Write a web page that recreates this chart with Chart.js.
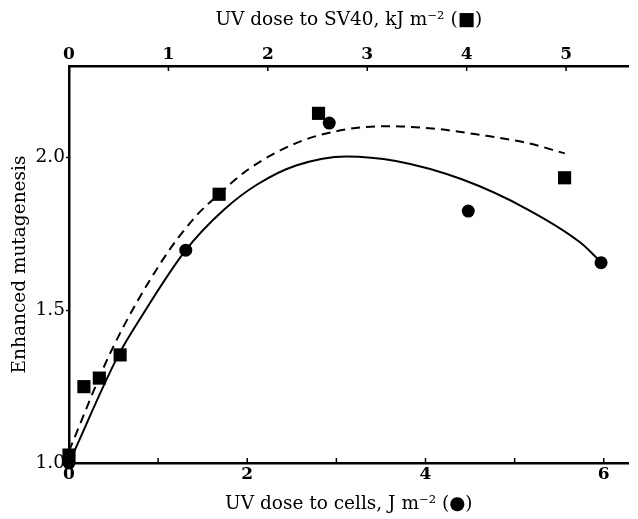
<!DOCTYPE html>
<html>
<head>
<meta charset="utf-8">
<script src="https://cdn.jsdelivr.net/npm/chart.js@4/dist/chart.umd.min.js"></script>
<style>
  html, body { margin: 0; padding: 0; background: #fff; }
  #wrap { width: 638px; height: 519px; }
</style>
</head>
<body>
<div id="wrap"><canvas id="c" width="638" height="519"></canvas></div>
<script>
// Circles: UV dose to cells (J m^-2), bottom axis
const cellDose = [0, 1.31, 2.92, 4.48, 5.97];
const cellMut  = [1.0, 1.697, 2.113, 1.825, 1.656];
// Squares: UV dose to SV40 (kJ m^-2), top axis
const sv40Dose = [0, 0.15, 0.305, 0.514, 1.51, 2.51, 4.985];
const sv40Mut  = [1.026, 1.25, 1.278, 1.354, 1.88, 2.145, 1.934];
// Solid fitted curve (cells, J m^-2)
const solidX = [0, 0.556, 0.814, 1.31, 1.741, 2.111, 2.556, 3.11, 3.667, 4.408, 5.148, 5.741, 5.974];
const solidY = [1.0, 1.354, 1.48, 1.697, 1.83, 1.912, 1.975, 2.004, 1.989, 1.929, 1.83, 1.721, 1.656];
// Dashed fitted curve (SV40, kJ m^-2)
const dashX = [0, 0.431, 0.944, 1.276, 1.508, 1.806, 2.303, 2.80, 3.20, 3.70, 4.125, 4.62, 4.987];
const dashY = [1.04, 1.371, 1.666, 1.808, 1.88, 1.962, 2.05, 2.093, 2.103, 2.094, 2.075, 2.047, 2.014];
// Axis ticks
const bottomTicks = [0, 1, 2, 3, 4, 5, 6];
const bottomLabels = ['0', '', '2', '', '4', '', '6'];
const topTicks = [0, 1, 2, 3, 4, 5];
const yTicks = [1.0, 1.5, 2.0];

const pts = (xs, ys) => xs.map((x, i) => ({x: x, y: ys[i]}));
const SERIF = "'DejaVu Serif', serif";

const inwardTicks = {
  id: 'inwardTicks',
  afterDraw(chart) {
    const ctx = chart.ctx;
    const a = chart.chartArea;
    ctx.save();
    ctx.strokeStyle = '#000';
    ctx.lineWidth = 1.5;
    const sx = chart.scales.x, sx2 = chart.scales.x2;
    bottomTicks.forEach(v => {
      const px = sx.getPixelForValue(v);
      ctx.beginPath(); ctx.moveTo(px, a.bottom); ctx.lineTo(px, a.bottom - 5); ctx.stroke();
    });
    topTicks.forEach(v => {
      const px = sx2.getPixelForValue(v);
      ctx.beginPath(); ctx.moveTo(px, a.top); ctx.lineTo(px, a.top + 5); ctx.stroke();
    });
    ctx.restore();
  }
};

new Chart(document.getElementById('c'), {
  type: 'scatter',
  data: {
    datasets: [
      {
        type: 'line', label: 'solid', data: pts(solidX, solidY), xAxisID: 'x', yAxisID: 'y',
        borderColor: '#000', borderWidth: 2, pointRadius: 0, fill: false,
        cubicInterpolationMode: 'monotone'
      },
      {
        type: 'line', label: 'dashed', data: pts(dashX, dashY), xAxisID: 'x2', yAxisID: 'y',
        borderColor: '#000', borderWidth: 2, borderDash: [9, 6], pointRadius: 0, fill: false,
        cubicInterpolationMode: 'monotone'
      },
      {
        label: 'cells', data: pts(cellDose, cellMut), xAxisID: 'x', yAxisID: 'y',
        pointStyle: 'circle', pointRadius: 6.5, backgroundColor: '#000', borderColor: '#000', borderWidth: 0,
        clip: false
      },
      {
        label: 'SV40', data: pts(sv40Dose, sv40Mut), xAxisID: 'x2', yAxisID: 'y',
        pointStyle: 'rect', pointRadius: 9.3, backgroundColor: '#000', borderColor: '#000', borderWidth: 0,
        clip: false
      }
    ]
  },
  options: {
    responsive: false,
    animation: false,
    layout: { padding: { left: 0, right: 3, top: 0, bottom: 0 } },
    plugins: { legend: { display: false }, tooltip: { enabled: false } },
    scales: {
      x: {
        type: 'linear', position: 'bottom', min: 0, max: 6.28,
        afterFit: s => { s.height = 56; },
        afterBuildTicks: s => { s.ticks = bottomTicks.map(v => ({value: v})); },
        ticks: {
          autoSkip: false, maxRotation: 0, padding: 1, color: '#000',
          font: { family: SERIF, size: 17, weight: 'bold' },
          callback: (v) => bottomLabels[bottomTicks.indexOf(v)] ?? ''
        },
        grid: { display: false, drawTicks: false },
        border: { display: true, color: '#000', width: 2.5 },
        title: {
          display: true, text: 'UV dose to cells, J m\u207B\u00B2 (\u25CF)', color: '#000',
          font: { family: SERIF, size: 18.5 }, padding: { top: 4, bottom: 4 }
        }
      },
      x2: {
        type: 'linear', position: 'top', min: 0, max: 5.63,
        afterFit: s => { s.height = 66; },
        afterBuildTicks: s => { s.ticks = topTicks.map(v => ({value: v})); },
        ticks: {
          autoSkip: false, maxRotation: 0, padding: 1, color: '#000',
          font: { family: SERIF, size: 17, weight: 'bold' }
        },
        grid: { display: false, drawTicks: false },
        border: { display: true, color: '#000', width: 2.5 },
        title: {
          display: true, text: 'UV dose to SV40, kJ m\u207B\u00B2 (\u25A0)', color: '#000',
          font: { family: SERIF, size: 18.5 }, padding: { top: 9, bottom: 9 }
        }
      },
      y: {
        type: 'linear', position: 'left', min: 1.0, max: 2.3,
        afterFit: s => { s.width = 69; },
        afterBuildTicks: s => { s.ticks = yTicks.map(v => ({value: v})); },
        ticks: {
          padding: 1, color: '#000',
          font: { family: SERIF, size: 18.5 },
          callback: v => Number(v).toFixed(1)
        },
        grid: { display: true, drawOnChartArea: false, drawTicks: true, tickLength: 3, color: '#000', tickWidth: 1.5 },
        border: { display: true, color: '#000', width: 2.5 },
        title: {
          display: true, text: 'Enhanced mutagenesis', color: '#000',
          font: { family: SERIF, size: 18.5 }, padding: { top: 9, bottom: 9 }
        }
      }
    }
  },
  plugins: [inwardTicks]
});
</script>
</body>
</html>
